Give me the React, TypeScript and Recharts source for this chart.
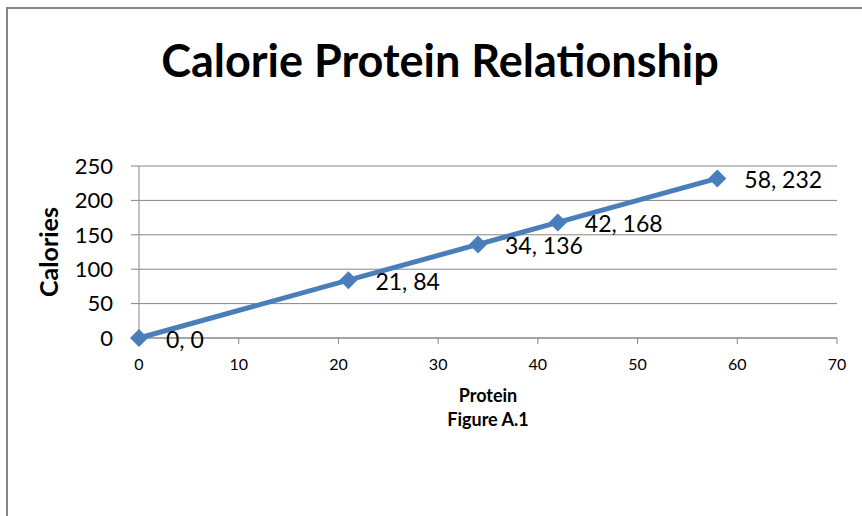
import { ScatterChart, Scatter, XAxis, YAxis, CartesianGrid, LabelList, Label } from 'recharts'

const protein = [0, 21, 34, 42, 58]
const calories = [0, 84, 136, 168, 232]
const xTicks = [0, 10, 20, 30, 40, 50, 60, 70]
const yTicks = [0, 50, 100, 150, 200, 250]

const data = protein.map((p, i) => ({ protein: p, calories: calories[i], label: `${p}, ${calories[i]}` }))

const BLUE = '#4A7EBB'
const GRAY = '#868686'
const FONT = 'Lato, "Noto Sans", sans-serif'

function Diamond(props: any) {
  const { cx, cy } = props
  const r = 9
  return <polygon points={`${cx},${cy - r} ${cx + r},${cy} ${cx},${cy + r} ${cx - r},${cy}`} fill={BLUE} />
}

function PointLabel(props: any) {
  const vb = props.viewBox ?? props
  const cx = vb.x + (vb.width ?? 0) / 2
  const cy = vb.y + (vb.height ?? 0) / 2
  return (
    <text x={cx + 27} y={cy + 2} dy="0.35em" fontSize={23} fontFamily={FONT} fill="#000" textAnchor="start">
      {props.value}
    </text>
  )
}

function XTick(props: any) {
  const { x, y, payload } = props
  return (
    <text x={x} y={y} dy="0.71em" textAnchor="middle" fontSize={16} fontFamily={FONT} fill="#000">
      {payload.value}
    </text>
  )
}

function XTitle(props: any) {
  const { x, y, width } = props.viewBox
  const mid = x + width / 2
  return (
    <g fontFamily={FONT} fontWeight="bold" fontSize={18} fill="#000" textAnchor="middle">
      <text x={mid} y={y + 64}>Protein</text>
      <text x={mid} y={y + 88}>Figure A.1</text>
    </g>
  )
}

function YTitle(props: any) {
  const { y, height } = props.viewBox
  const mid = y + height / 2
  return (
    <text x={49} y={mid} transform={`rotate(-90 49 ${mid})`} dy="0.35em" textAnchor="middle"
      fontFamily={FONT} fontWeight="bold" fontSize={25} fill="#000">
      Calories
    </text>
  )
}

export default function App() {
  return (
    <div style={{ position: 'absolute', left: 0, top: 0, width: 862, height: 516, background: '#fff', overflow: 'hidden' }}>
      <div style={{ position: 'absolute', left: 6, top: 7, width: 900, height: 600, borderLeft: `2px solid ${GRAY}`, borderTop: `2px solid ${GRAY}` }} />
      <div style={{ position: 'absolute', left: 0, top: 30, width: 880, textAlign: 'center', fontFamily: FONT, fontWeight: 'bold', fontSize: 45, lineHeight: '60px', color: '#000' }}>
        Calorie Protein Relationship
      </div>
      <ScatterChart width={862} height={516} margin={{ top: 166, right: 25, bottom: 0, left: 0 }} style={{ position: 'absolute', left: 0, top: 0 }}>
        <CartesianGrid vertical={false} stroke={GRAY} strokeWidth={1} />
        <XAxis
          type="number"
          dataKey="protein"
          domain={[0, 70]}
          ticks={xTicks}
          height={178}
          stroke={GRAY}
          tickSize={6}
          tickMargin={15}
          tick={<XTick />}
        >
          <Label content={<XTitle />} />
        </XAxis>
        <YAxis
          type="number"
          dataKey="calories"
          domain={[0, 250]}
          ticks={yTicks}
          width={139}
          stroke={GRAY}
          tickSize={8}
          tickMargin={18}
          tick={{ fontSize: 22, fontFamily: FONT, fill: '#000' }}
        >
          <Label content={<YTitle />} />
        </YAxis>
        <Scatter
          data={data}
          line={{ stroke: BLUE, strokeWidth: 5 }}
          shape={<Diamond />}
          isAnimationActive={false}
        >
          <LabelList dataKey="label" content={<PointLabel />} />
        </Scatter>
      </ScatterChart>
    </div>
  )
}
